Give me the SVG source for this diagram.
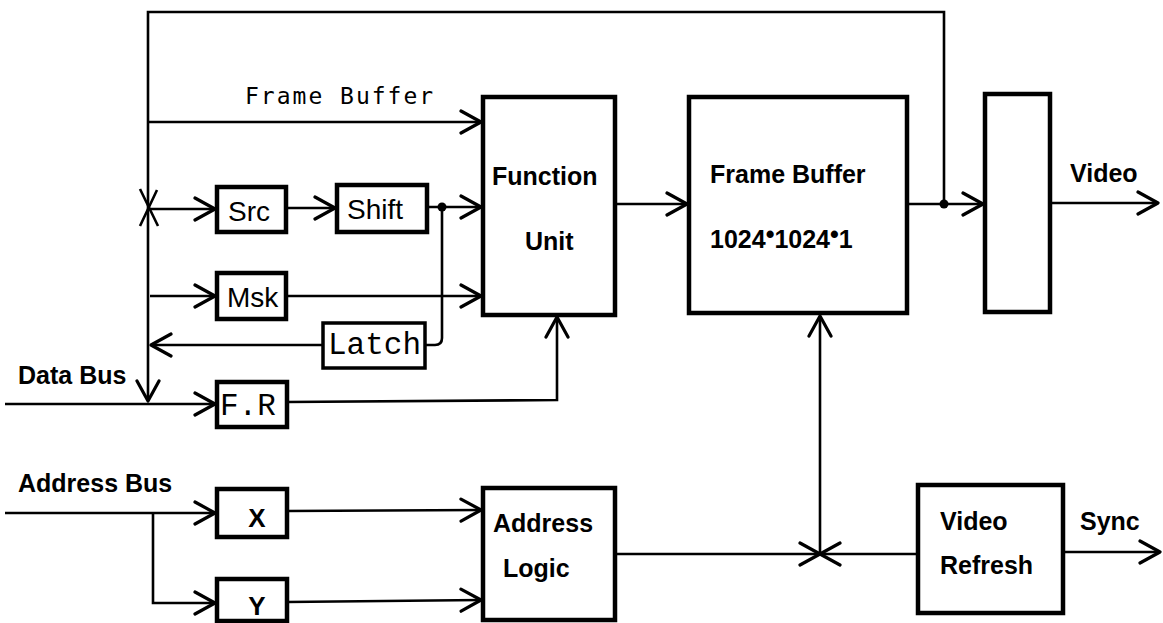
<svg xmlns="http://www.w3.org/2000/svg" width="1163" height="623" viewBox="0 0 1163 623">
  <style>
    .box { fill: #fff; stroke: #000; stroke-width: 4.5; }
    .thin { stroke-width: 3.5; }
    .wire { fill: none; stroke: #000; stroke-width: 2.6; }
    .lbl { font-family: "Liberation Sans", Arial, sans-serif; font-weight: bold; font-size: 25px; fill: #000; }
    .sm { font-family: "Liberation Sans", Arial, sans-serif; font-size: 28px; fill: #000; }
    .reg { font-family: "Liberation Sans", Arial, sans-serif; font-weight: bold; font-size: 26px; fill: #000; }
    .mono { font-family: "Liberation Mono", "Courier New", monospace; font-size: 31px; fill: #000; }
    .smono { font-family: "DejaVu Sans Mono", monospace; font-size: 23px; letter-spacing: 2px; fill: #000; }
  </style>
  <defs>
    <marker id="arr" viewBox="0 0 24 26" refX="22" refY="13" markerWidth="24" markerHeight="26" markerUnits="userSpaceOnUse" orient="auto">
      <path d="M2,2 L22,13 L2,24" fill="none" stroke="#000" stroke-width="3.2" stroke-linecap="round" stroke-linejoin="round"/>
    </marker>
  </defs>
  <rect width="1163" height="623" fill="#fff"/>

  <!-- connectors -->
  <g id="connectors">
    <path class="wire" d="M944,204 L944,12 L148,12 L148,401" marker-end="url(#arr)"/>
    <path class="wire" d="M148,122 L481,122" marker-end="url(#arr)"/>
    <path class="wire" d="M148,209 L215,209" marker-end="url(#arr)"/>
    <path class="wire" d="M286,208 L335,208" marker-end="url(#arr)"/>
    <path class="wire" d="M427,207 L481,207" marker-end="url(#arr)"/>
    <path class="wire" d="M442,207 L442,338 Q442,345 435,345 L425,345"/>
    <path class="wire" d="M323,345 L151,345" marker-end="url(#arr)"/>
    <path class="wire" d="M150,296 L215,296" marker-end="url(#arr)"/>
    <path class="wire" d="M286,296 L481,296" marker-end="url(#arr)"/>
    <path class="wire" d="M5,404 L215,404" marker-end="url(#arr)"/>
    <path class="wire" d="M287,402 L557,400 L557,317" marker-end="url(#arr)"/>
    <path class="wire" d="M140,189 L158,226 M157,190 L140,226"/>
    <path class="wire" d="M615,204 L687,204" marker-end="url(#arr)"/>
    <path class="wire" d="M907,204 L983,204" marker-end="url(#arr)"/>
    <path class="wire" d="M1050,203 L1158,203" marker-end="url(#arr)"/>
    <path class="wire" d="M5,513 L215,513" marker-end="url(#arr)"/>
    <path class="wire" d="M153,513 L153,603 L215,603" marker-end="url(#arr)"/>
    <path class="wire" d="M287,511 L481,510" marker-end="url(#arr)"/>
    <path class="wire" d="M287,602 L481,600" marker-end="url(#arr)"/>
    <path class="wire" d="M615,554 L820,554" marker-end="url(#arr)"/>
    <path class="wire" d="M918,554 L820,554" marker-end="url(#arr)"/>
    <path class="wire" d="M820,554 L820,316" marker-end="url(#arr)"/>
    <path class="wire" d="M1063,552 L1160,552" marker-end="url(#arr)"/>
    <circle cx="442" cy="207" r="4.5" fill="#000"/>
    <circle cx="944" cy="204" r="4.5" fill="#000"/>
    <text class="smono" x="245" y="104">Frame Buffer</text>
    <text class="lbl" x="1070" y="182">Video</text>
    <text class="lbl" x="18" y="384">Data Bus</text>
    <text class="lbl" x="18" y="492">Address Bus</text>
    <text class="lbl" x="1080" y="530">Sync</text>
  </g>

  <g id="function-unit">
    <rect class="box" x="483" y="97" width="132" height="218"/>
    <text class="lbl" x="492" y="185">Function</text>
    <text class="lbl" x="525" y="250">Unit</text>
  </g>
  <g id="frame-buffer">
    <rect class="box" x="689" y="97" width="218" height="216"/>
    <text class="lbl" x="710" y="183">Frame Buffer</text>
    <text class="lbl" x="710" y="248">1024<tspan dy="-5">•</tspan><tspan dy="5">1024</tspan><tspan dy="-5">•</tspan><tspan dy="5">1</tspan></text>
  </g>
  <g id="output-stage">
    <rect class="box" x="985" y="94" width="65" height="218"/>
  </g>
  <g id="src">
    <rect class="box" x="217" y="187" width="69" height="45"/>
    <text class="sm" x="228" y="221">Src</text>
  </g>
  <g id="shift">
    <rect class="box" x="337" y="185" width="90" height="47"/>
    <text class="sm" x="347" y="219">Shift</text>
  </g>
  <g id="msk">
    <rect class="box" x="217" y="273" width="69" height="46"/>
    <text class="sm" x="227" y="307">Msk</text>
  </g>
  <g id="latch">
    <rect class="box thin" x="323" y="323" width="102" height="45"/>
    <text class="mono" x="328" y="354">Latch</text>
  </g>
  <g id="fr">
    <rect class="box" x="217" y="382" width="70" height="45"/>
    <text class="mono" x="220" y="415">F.R</text>
  </g>
  <g id="x-reg">
    <rect class="box" x="217" y="489" width="70" height="48"/>
    <text class="reg" x="257" y="527" text-anchor="middle">X</text>
  </g>
  <g id="y-reg">
    <rect class="box" x="217" y="579" width="70" height="42"/>
    <text class="reg" x="257" y="615" text-anchor="middle">Y</text>
  </g>
  <g id="address-logic">
    <rect class="box" x="483" y="488" width="132" height="132"/>
    <text class="lbl" x="493" y="532">Address</text>
    <text class="lbl" x="503" y="577">Logic</text>
  </g>
  <g id="video-refresh">
    <rect class="box" x="918" y="485" width="145" height="128"/>
    <text class="lbl" x="940" y="530">Video</text>
    <text class="lbl" x="940" y="574">Refresh</text>
  </g>
</svg>
